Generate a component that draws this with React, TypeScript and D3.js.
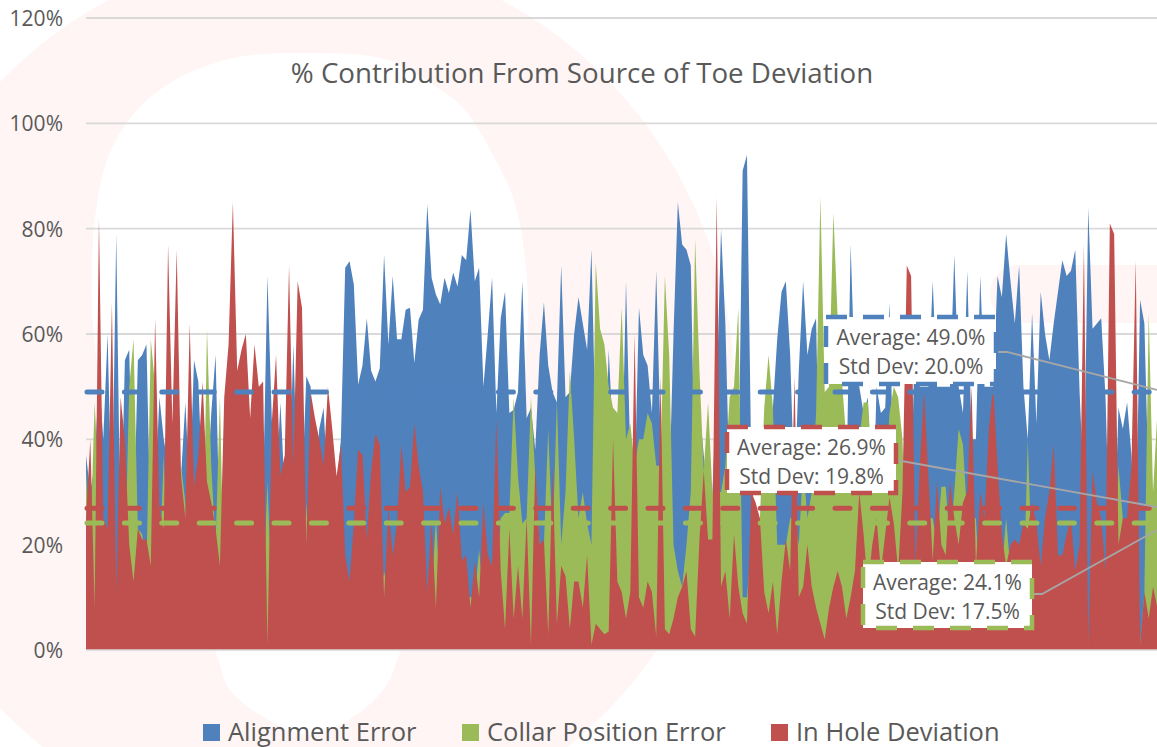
import React from "react";
import * as d3 from "d3";

const width = 1157;
const height = 747;

const yTicks = [0, 20, 40, 60, 80, 100, 120];

const alignmentError = [
  37, 30, 35, 52, 40, 60, 25, 79, 20, 55,
  57, 22, 55, 56, 58, 21, 30, 48, 40, 35,
  30, 30, 33, 47, 30, 55, 51, 30, 30, 45,
  56, 20, 30, 30, 30, 30, 30, 30, 30, 30,
  30, 30, 71, 44, 30, 47, 30, 30, 58, 30,
  30, 52, 50, 30, 42, 46, 30, 30, 30, 40,
  72.6, 73.8, 69.4, 50.4, 54, 63, 53, 51, 53.5, 75,
  58, 71, 59, 59, 64.6, 65, 54.5, 62.7, 64.6, 84.6,
  70.7, 67.5, 65.6, 70.7, 67.8, 71.7, 69, 75, 74, 83.6,
  70, 72.6, 50, 60, 70.7, 45, 63, 68, 45, 45.6,
  49, 70, 44, 46, 38, 56, 66, 54, 49, 47,
  73, 48, 49, 60, 67, 62, 57, 76, 40, 40,
  30, 57, 40, 30, 30, 70, 36, 30, 65, 56,
  54, 45, 72, 40, 30, 30, 60, 85, 77, 76,
  73, 30, 46, 37, 30, 30, 49, 80, 62, 30,
  30, 30, 91, 94, 35, 20, 20, 40, 40, 46,
  59, 68, 70, 56, 30, 53, 70, 56, 61, 63,
  20, 20, 20, 20, 20, 20, 30, 77, 51, 50,
  45, 48, 20, 50, 45, 46, 66, 30, 20, 20,
  20, 30, 64, 50, 50, 50, 70, 50, 50, 50,
  50, 75, 50, 45, 72, 40, 40, 71, 50, 50,
  50, 71, 67, 79, 70, 62, 73, 50, 40, 64,
  43, 68, 60, 55, 62, 68, 74, 71, 72, 76,
  49, 30, 84, 61, 62, 63, 48, 20, 20, 46,
  42, 47, 37, 20, 66.5, 62, 30, 20, 44,
];

const collarPositionError = [
  34, 20, 47, 30, 10, 10, 10, 10, 10, 15,
  50, 59, 23, 22, 15, 59, 50, 15, 37, 15,
  10, 15, 35, 28, 10, 10, 10, 10, 61, 35,
  20, 48, 10, 10, 10, 10, 10, 10, 10, 10,
  10, 10, 32, 10, 10, 10, 10, 10, 10, 10,
  10, 28, 10, 10, 10, 10, 10, 10, 10, 10,
  10, 10, 10, 10, 10, 10, 10, 10, 10, 15,
  10, 10, 10, 10, 10, 10, 10, 10, 10, 10,
  10, 25, 10, 10, 10, 10, 10, 10, 10, 10,
  10, 19, 10, 10, 10, 10, 25, 26, 26, 48,
  33, 24, 25, 48, 33, 20, 20, 42, 20, 47.5,
  20, 30, 53, 40, 25, 30, 24, 20, 73.5, 61,
  58, 50, 46, 45, 65, 40, 43, 35, 40, 40,
  45, 43, 35, 35, 71, 56, 20, 15, 12, 20,
  30, 78, 53, 34, 47, 30, 30, 30, 35, 48,
  50, 65, 10, 10, 20, 20, 25, 46, 56, 46,
  20, 20, 20, 25, 25, 20, 35, 25, 30, 45,
  86, 49, 50, 83, 63, 51, 40, 35, 35, 40,
  47, 47, 35, 30, 30, 30, 45, 50, 48, 40,
  12, 12, 15, 30, 25, 25, 25, 20, 31, 31,
  20, 30, 42, 39, 25, 25, 25, 10, 10, 10,
  10, 10, 15, 25, 15, 10, 10, 10, 40, 15,
  10, 10, 23, 10, 10, 10, 10, 10, 10, 10,
  10, 10, 1, 10, 10, 10, 10, 10, 10, 35,
  25, 15, 15, 10, 1, 11, 64, 30, 45,
];

const inHoleDeviation = [
  25, 40, 8, 82, 25, 23, 66, 11, 48, 40,
  20, 13, 23, 21, 21, 16, 63, 27, 23, 77,
  43, 76, 33, 25, 62, 31, 37, 51, 32, 28,
  23, 16, 48, 58, 85, 53, 57, 60, 44, 58,
  50, 51, 1, 43, 56, 33, 37, 73, 35, 70,
  65, 20, 49, 44, 40, 35, 50, 42, 33, 39,
  18, 13, 24, 38, 37, 21, 34, 41, 39, 10,
  27, 18, 24, 39, 30, 31, 43, 35, 30, 11,
  25, 8, 31, 24, 27, 22, 30, 17, 18, 8,
  17, 10, 28, 18, 16, 44, 15, 4, 23, 6,
  16, 6, 25, 1, 35, 20, 21, 3, 35, 5,
  16, 14, 4, 13, 13, 8, 18, 1, 5, 4,
  3, 3.5, 40, 13, 11, 6, 11, 60, 10, 8,
  13, 11, 2.5, 52, 4, 3, 6, 10, 12, 15,
  4, 2.5, 21, 34, 21, 21, 86, 12, 15, 6,
  22, 12, 7, 5, 30, 28, 25, 11, 7, 13,
  3, 13, 21, 15, 52, 10, 12, 20, 12, 8,
  5, 2, 8, 12, 15, 12, 6, 10, 15, 30,
  22, 12, 20, 25, 15, 22, 29, 24, 15, 30,
  73, 71, 16, 35, 49, 33, 17, 32, 20, 18,
  32, 25, 20, 28, 30, 50, 16, 30, 25, 42,
  50, 35, 22, 16, 20, 21, 20, 24, 23, 28,
  24, 16, 25, 30, 39, 18, 18, 22, 25, 15,
  20, 77, 1, 34, 28, 25, 15, 81, 79, 20,
  25, 25, 35, 74, 1, 11, 6, 12, 8,
];

const legendNames = ["Alignment Error", "Collar Position Error", "In Hole Deviation"];
const seriesColors = ["#4f81bd", "#9bbb59", "#c0504d"];
const averages = [49.0, 24.1, 26.9];
const stdDevs = [20.0, 17.5, 19.8];

const FONT = "'Open Sans', sans-serif";
const TEXT = "#595959";
const WATERMARK = "#fef5f4";

const x = d3.scaleLinear().domain([0, alignmentError.length - 1]).range([86, 86 + 248 * 4.32]);
const y = d3.scaleLinear().domain([0, 120]).range([650, 18]);

const area = d3
  .area<number>()
  .x((_, i) => x(i))
  .y0(y(0))
  .y1((d) => y(d));

// pale logo behind the plot
const ringHole = d3.line().curve(d3.curveCatmullRomClosed)([
  [310, 53], [388, 60], [436, 87], [465, 110], [494, 157], [514, 200], [526, 267],
  [527, 340], [510, 450], [460, 560], [400, 653], [388, 683], [359, 713], [310, 735],
  [257, 713], [228, 687], [216, 653], [170, 560], [115, 450], [94, 340], [92, 267],
  [95, 217], [107, 160], [131, 117], [170, 83], [233, 58],
]) as string;

// callouts: box, then where its leader goes
const callouts = [
  { s: 0, left: 826, top: 317, right: 996, bottom: 384, line: [[996, 352], [1007, 352], [1157, 390]] },
  { s: 2, left: 727, top: 427, right: 896, bottom: 493, line: [[896, 460], [1157, 507]] },
  { s: 1, left: 863, top: 562, right: 1032, bottom: 628, line: [[1032, 594], [1042, 594], [1157, 530]] },
];

const leader = d3.line();

export default function App() {
  const series = [alignmentError, collarPositionError, inHoleDeviation];
  return (
    <svg
      width={width}
      height={height}
      style={{ position: "absolute", left: 0, top: 0, background: "#fff" }}
      fontFamily={FONT}
    >
      <ellipse cx={305} cy={395} rx={430} ry={444} fill={WATERMARK} />
      <path d={ringHole} fill="#fff" />
      <rect x={990} y={265} width={220} height={58} rx={28} fill={WATERMARK} />

      {yTicks.map((t) => (
        <g key={t}>
          {t > 0 && (
            <line x1={86} x2={width} y1={y(t)} y2={y(t)} stroke="#d9d9d9" strokeWidth={1.8} />
          )}
          <text x={63} y={y(t) + 8} textAnchor="end" fontSize={21} fill={TEXT}>
            {t}%
          </text>
        </g>
      ))}

      <text x={582} y={83} textAnchor="middle" fontSize={27.7} fill={TEXT}>
        % Contribution From Source of Toe Deviation
      </text>

      {series.map((s, i) => (
        <path key={i} d={area(s) as string} fill={seriesColors[i]} />
      ))}
      <line x1={86} x2={width} y1={y(0)} y2={y(0)} stroke="#d9d9d9" strokeWidth={1.5} />

      {averages.map((a, i) => (
        <line
          key={i}
          x1={87}
          x2={width}
          y1={y(a)}
          y2={y(a)}
          stroke={seriesColors[i]}
          strokeWidth={5}
          strokeLinecap="round"
          strokeDasharray="15 22.4"
        />
      ))}

      {callouts.map((c) => (
        <g key={c.s}>
          <path d={leader(c.line as [number, number][]) as string} fill="none" stroke="#a6a6a6" strokeWidth={1.8} />
          <rect
            x={c.left}
            y={c.top}
            width={c.right - c.left}
            height={c.bottom - c.top}
            fill="#fff"
            stroke={seriesColors[c.s]}
            strokeWidth={4.5}
            strokeDasharray="21 16"
          />
          <text x={(c.left + c.right) / 2} y={c.top + 28} textAnchor="middle" fontSize={21} fill={TEXT}>
            Average: {averages[c.s].toFixed(1)}%
          </text>
          <text x={(c.left + c.right) / 2} y={c.top + 57} textAnchor="middle" fontSize={21} fill={TEXT}>
            Std Dev: {stdDevs[c.s].toFixed(1)}%
          </text>
        </g>
      ))}

      {legendNames.map((name, i) => {
        const lx = [203, 462, 771][i];
        return (
          <g key={name}>
            <rect x={lx} y={724} width={17} height={17} fill={seriesColors[i]} />
            <text x={lx + 25} y={741} fontSize={25.5} fill={TEXT}>
              {name}
            </text>
          </g>
        );
      })}
    </svg>
  );
}
